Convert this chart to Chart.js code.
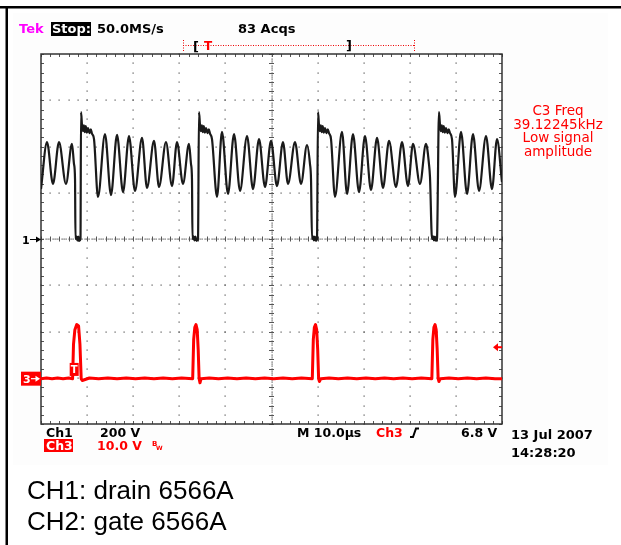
<!DOCTYPE html>
<html><head><meta charset="utf-8">
<script src="https://cdn.jsdelivr.net/npm/chart.js@4.4.0/dist/chart.umd.min.js"></script>
<style>html,body{margin:0;padding:0;background:#fff;overflow:hidden}canvas{display:block}</style>
</head><body><canvas id="c" width="621" height="545"></canvas>
<script>
// ---- Data (time in µs, CH1 in volts at 200 V/div, CH3 in volts at 10 V/div) ----
const ch1Time = [
0, 1.30, 2.60, 3.90, 5.42, 6.72, 7.16, 7.38, 7.48, 7.70, 7.90, 8.10, 8.30, 8.57,
8.68, 8.89, 9.10, 9.30, 9.50, 9.70, 9.95, 10.20, 10.50, 10.80, 11.06, 11.50,
12.36, 13.88, 15.18, 16.49, 17.79, 19.09, 20.39, 21.91, 22.99, 24.51, 25.60, 27.11, 28.42, 29.50, 30.80, 32.10,
32.54, 32.75, 32.86, 33.10, 33.30, 33.50, 33.75, 34.06,
34.27, 34.49, 34.70, 34.90, 35.10, 35.30, 35.55, 35.80, 36.10, 36.40, 36.66, 37.09,
38.18, 39.26, 40.56, 41.87, 43.17, 44.69, 45.99, 47.29, 48.59, 49.89, 51.19, 52.49, 53.58, 55.10, 56.40, 57.70,
58.35, 58.57, 58.79, 59.00, 59.20, 59.40, 59.65, 59.87,
60.09, 60.30, 60.50, 60.70, 60.90, 61.10, 61.35, 61.60, 61.90, 62.20, 62.47, 62.91,
63.77, 65.29, 66.38, 67.68, 68.98, 70.28, 71.58, 72.89, 74.19, 75.49, 77.01, 78.31, 79.61, 80.69, 82.21, 83.51,
84.16, 84.38, 84.82, 85.05, 85.25, 85.45, 85.68, 85.90,
86.33, 86.55, 86.75, 86.95, 87.15, 87.35, 87.60, 87.85, 88.15, 88.45, 88.72, 89.15,
89.80, 91.11, 92.41, 93.71, 95.01, 96.53, 97.83, 98.92, 100
];
const ch1Volts = [
216, 419, 238, 419, 238, 411, 324, 259, 0, 12, -6, 10, -8, 0,
549, 493, 466, 492, 462, 488, 460, 480, 458, 474, 456, 432,
182, 454, 190, 450, 203, 445, 208, 437, 221, 424, 225, 419, 229, 419, 238, 411,
324, 259, 0, 12, -6, 10, -8, 0,
549, 493, 466, 492, 462, 488, 460, 480, 458, 474, 456, 432,
182, 463, 195, 454, 208, 445, 216, 432, 225, 424, 229, 419, 238, 419, 238, 406,
324, 259, 0, 12, -6, 10, -8, 0,
549, 493, 466, 492, 462, 488, 460, 480, 458, 474, 458, 432,
182, 463, 195, 454, 203, 445, 212, 437, 221, 424, 225, 419, 229, 411, 238, 411,
324, 268, 0, 12, -6, 10, -8, 0,
549, 493, 466, 492, 462, 488, 460, 480, 458, 474, 458, 432,
182, 463, 195, 454, 208, 445, 216, 432, 246
];
const ch3Time = [
0, 1.2, 2.4, 3.6, 4.8, 6.0, 6.85,
7.05, 7.35, 7.75, 8.15, 8.45, 8.72, 8.95,
10.5, 12.5, 14.5, 16.5, 18.5, 20.5, 22.5, 24.5, 26.5, 28.5, 30.5, 32.9,
33.12, 33.36, 33.62, 33.88, 34.10, 34.30, 34.49, 34.71,
36.5, 38.5, 40.5, 42.5, 44.5, 46.5, 48.5, 50.5, 52.5, 54.5, 56.5, 58.85,
59.07, 59.30, 59.55, 59.80, 60.02, 60.22, 60.41, 60.7,
62.5, 64.5, 66.5, 68.5, 70.5, 72.5, 74.5, 76.5, 78.5, 80.5, 82.5, 84.78,
85.00, 85.23, 85.48, 85.72, 85.94, 86.15, 86.33, 86.6,
88.5, 90.5, 92.5, 94.5, 96.5, 98.5, 100
];
const ch3Volts = [
0, 0.15, 0, 0.15, 0, 0.15, 0,
7.4, 10.6, 11.7, 11.4, 7.4, 0, -0.4,
0.15, 0, 0.15, 0, 0.15, 0, 0.15, 0, 0.15, 0, 0.15, 0,
8.5, 11.1, 11.7, 10.6, 6.3, 0, -0.9, 0,
0.15, 0, 0.15, 0, 0.15, 0, 0.15, 0, 0.15, 0, 0.15, 0,
8.5, 11.1, 11.7, 10.6, 6.3, 0, -0.6, 0,
0.15, 0, 0.15, 0, 0.15, 0, 0.15, 0, 0.15, 0, 0.15, 0,
8.5, 11.1, 11.7, 10.6, 6.3, 0, -0.6, 0,
0.15, 0, 0.15, 0, 0.15, 0, 0
];
// Scope settings / labels
const timeDivs = 10, timePerDiv = 10;           // µs
const ch1PerDiv = 200, ch3PerDiv = 10;          // V
const ch3CenterOffset = 30.2;                   // V at screen centre for CH3 (ground position)
const trigLevel = 6.8;
const headerTexts = ['Tek', 'Stop:', '50.0MS/s', '83 Acqs'];
const measTexts = ['C3 Freq', '39.12245kHz', 'Low signal', 'amplitude'];
const footer1 = ['Ch1', '200 V', 'M 10.0µs', 'Ch3', '6.8 V'];
const footer2 = ['Ch3', '10.0 V'];
const dateTexts = ['13 Jul 2007', '14:28:20'];
const captionTexts = ['CH1: drain 6566A', 'CH2: gate 6566A'];

const pts = (xs, ys) => xs.map((t, i) => ({x: t, y: ys[i]}));

const scopeGrid = {
  id: 'scopeGrid',
  beforeDraw(chart) {
    const ctx = chart.ctx;
    ctx.save();
    ctx.fillStyle = '#fff';
    ctx.fillRect(0, 0, chart.width, chart.height);
    ctx.fillStyle = '#fdfdfd';
    ctx.fillRect(13, 13, 595, 452);
    ctx.fillStyle = '#000';
    ctx.fillRect(0, 6, chart.width, 2.5);
    ctx.fillRect(5.5, 7, 2.5, chart.height);
    ctx.restore();
  },
  beforeDatasetsDraw(chart) {
    const {ctx, scales: {x, y}} = chart;
    const L = x.getPixelForValue(0), R = x.getPixelForValue(timeDivs * timePerDiv);
    const T = y.getPixelForValue(4 * ch1PerDiv), B = y.getPixelForValue(-4 * ch1PerDiv);
    ctx.save();
    ctx.fillStyle = '#fff';
    ctx.fillRect(L, T, R - L, B - T);
    const dot = (px, py) => ctx.fillRect(Math.round(px) - 0.5, Math.round(py) - 0.5, 1.2, 1.2);
    ctx.fillStyle = '#555';
    for (let d = 1; d < timeDivs; d++) {
      const px = x.getPixelForValue(d * timePerDiv);
      if (d === timeDivs / 2) continue;
      for (let m = -20; m <= 20; m++) dot(px, y.getPixelForValue(m * ch1PerDiv / 5));
    }
    for (let d = -3; d <= 3; d++) {
      if (d === 0) continue;
      const py = y.getPixelForValue(d * ch1PerDiv);
      for (let m = 0; m <= timeDivs * 5; m++) dot(x.getPixelForValue(m * timePerDiv / 5), py);
    }
    const cx = x.getPixelForValue(timeDivs * timePerDiv / 2), cy = y.getPixelForValue(0);
    for (let m = 0; m <= timeDivs * 20; m++) dot(x.getPixelForValue(m * timePerDiv / 20), cy);
    for (let m = -80; m <= 80; m++) dot(cx, y.getPixelForValue(m * ch1PerDiv / 20));
    ctx.strokeStyle = '#555';
    ctx.lineWidth = 1;
    ctx.beginPath();
    for (let m = 0; m <= timeDivs * 5; m++) {
      const px = Math.round(x.getPixelForValue(m * timePerDiv / 5)) + 0.5;
      ctx.moveTo(px, cy - 2.5); ctx.lineTo(px, cy + 2.5);
      ctx.moveTo(px, T); ctx.lineTo(px, T + 3);
      ctx.moveTo(px, B); ctx.lineTo(px, B - 3);
    }
    for (let m = -20; m <= 20; m++) {
      const py = Math.round(y.getPixelForValue(m * ch1PerDiv / 5)) + 0.5;
      ctx.moveTo(cx - 2.5, py); ctx.lineTo(cx + 2.5, py);
      ctx.moveTo(L, py); ctx.lineTo(L + 3, py);
      ctx.moveTo(R, py); ctx.lineTo(R - 3, py);
    }
    ctx.stroke();
    ctx.strokeStyle = '#333';
    ctx.lineWidth = 1.5;
    ctx.strokeRect(L, T, R - L, B - T);
    ctx.restore();
  },
  afterDraw(chart) {
    const {ctx, scales: {x, y, y3}} = chart;
    const txt = (s, px, py, font, color, align) => {
      ctx.font = font; ctx.fillStyle = color; ctx.textAlign = align || 'left';
      ctx.textBaseline = 'alphabetic'; ctx.fillText(s, px, py);
    };
    const F = 'bold 13px "DejaVu Sans"';
    const F2 = 'bold 12.5px "DejaVu Sans"';
    ctx.save();
    txt(headerTexts[0], 19, 33, F, '#ff00ff');
    ctx.fillStyle = '#000'; ctx.fillRect(51, 22, 40, 14);
    txt(headerTexts[1], 52, 33, F, '#fff');
    txt(headerTexts[2], 97, 33, F, '#000');
    txt(headerTexts[3], 238, 33, F, '#000');
    ctx.strokeStyle = '#e00'; ctx.lineWidth = 1;
    ctx.setLineDash([1, 1.5]);
    ctx.beginPath(); ctx.moveTo(183, 45.5); ctx.lineTo(414, 45.5);
    ctx.moveTo(183.5, 40); ctx.lineTo(183.5, 51); ctx.moveTo(414.5, 40); ctx.lineTo(414.5, 51);
    ctx.stroke(); ctx.setLineDash([]);
    txt('[', 193, 51, F, '#000');
    txt('T', 204, 50, 'bold 12px "DejaVu Sans"', '#f00');
    txt(']', 346, 50, F, '#000');
    const mb = [115, 128.5, 142, 155.5];
    measTexts.forEach((s, i) => txt(s, 558, mb[i], '13.5px "DejaVu Sans"', '#f00', 'center'));
    txt(footer1[0], 46, 437, F2, '#000');
    txt(footer1[1], 100, 437, F2, '#000');
    txt(footer1[2], 297, 437, F2, '#000');
    txt(footer1[3], 376, 437, F2, '#f00');
    ctx.strokeStyle = '#000'; ctx.lineWidth = 2;
    ctx.beginPath(); ctx.moveTo(410, 437); ctx.lineTo(413, 437); ctx.lineTo(416, 428.5); ctx.lineTo(419, 428.5); ctx.stroke();
    txt(footer1[4], 461, 437, F2, '#000');
    ctx.fillStyle = '#f00'; ctx.fillRect(44, 439, 29, 13);
    txt(footer2[0], 46, 450, F2, '#fff');
    txt(footer2[1], 97, 450, F2, '#f00');
    txt('B', 152, 446, 'bold 7px "DejaVu Sans"', '#f00');
    txt('W', 156, 450, 'bold 6px "DejaVu Sans"', '#f00');
    txt(dateTexts[0], 511, 439, 'bold 13px "DejaVu Sans"', '#000');
    txt(dateTexts[1], 511, 457, 'bold 13px "DejaVu Sans"', '#000');
    txt(captionTexts[0], 27, 499, '26px "Liberation Sans"', '#000');
    txt(captionTexts[1], 27, 530, '26px "Liberation Sans"', '#000');
    const g1 = Math.round(y.getPixelForValue(0)) + 0.5;
    txt('1', 22, g1 + 4.5, 'bold 11px "DejaVu Sans"', '#000');
    ctx.strokeStyle = '#000'; ctx.lineWidth = 1;
    ctx.beginPath(); ctx.moveTo(30, g1); ctx.lineTo(40, g1); ctx.stroke();
    ctx.fillStyle = '#000';
    ctx.beginPath(); ctx.moveTo(41, g1); ctx.lineTo(36, g1 - 3); ctx.lineTo(36, g1 + 3); ctx.closePath(); ctx.fill();
    const g3 = y3.getPixelForValue(0);
    ctx.fillStyle = '#f00'; ctx.fillRect(21, g3 - 7, 20, 14);
    txt('3', 23, g3 + 4.5, 'bold 11px "DejaVu Sans"', '#fff');
    ctx.strokeStyle = '#fff'; ctx.lineWidth = 1.2;
    ctx.beginPath(); ctx.moveTo(31, g3); ctx.lineTo(38, g3); ctx.stroke();
    ctx.fillStyle = '#fff';
    ctx.beginPath(); ctx.moveTo(40, g3); ctx.lineTo(35.5, g3 - 3); ctx.lineTo(35.5, g3 + 3); ctx.closePath(); ctx.fill();
    const tl = y3.getPixelForValue(trigLevel);
    const R = x.getPixelForValue(100);
    ctx.fillStyle = '#f00';
    ctx.beginPath(); ctx.moveTo(R - 9, tl); ctx.lineTo(R - 4, tl - 4); ctx.lineTo(R - 4, tl + 4); ctx.closePath(); ctx.fill();
    ctx.fillRect(R - 5, tl - 1, 5, 2);
    const tx = x.getPixelForValue(7.2), ty = y3.getPixelForValue(2.0);
    ctx.fillStyle = '#f00'; ctx.fillRect(tx - 4.5, ty - 6.5, 9, 13);
    txt('T', tx, ty + 4, 'bold 10px "DejaVu Sans"', '#fff', 'center');
    ctx.restore();
  }
};

new Chart(document.getElementById('c'), {
  type: 'line',
  data: {
    datasets: [
      { label: 'CH1', data: pts(ch1Time, ch1Volts), yAxisID: 'y', borderColor: '#1a1a1a', borderWidth: 2.2,
        pointRadius: 0, cubicInterpolationMode: 'monotone', fill: false },
      { label: 'CH3', data: pts(ch3Time, ch3Volts), yAxisID: 'y3', borderColor: '#ff0000', borderWidth: 3,
        pointRadius: 0, tension: 0, fill: false, borderJoinStyle: 'round' }
    ]
  },
  options: {
    responsive: false, animation: false, devicePixelRatio: 1,
    layout: { padding: { left: 41, top: 54, right: 119, bottom: 121 } },
    plugins: { legend: { display: false }, tooltip: { enabled: false } },
    scales: {
      x: { type: 'linear', display: false, min: 0, max: timeDivs * timePerDiv },
      y: { display: false, min: -4 * ch1PerDiv, max: 4 * ch1PerDiv },
      y3: { display: false, min: ch3CenterOffset - 4 * ch3PerDiv, max: ch3CenterOffset + 4 * ch3PerDiv }
    }
  },
  plugins: [scopeGrid]
});
</script></body></html>
